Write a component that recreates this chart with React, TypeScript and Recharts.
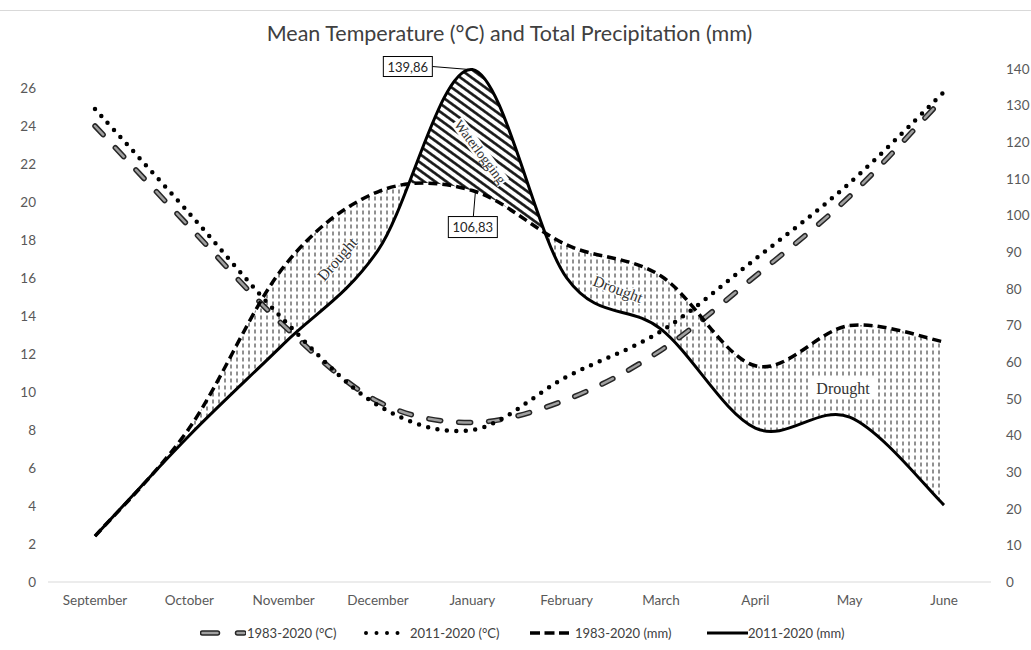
import React from 'react';
import { ComposedChart, Line, Area, XAxis, YAxis, LabelList } from 'recharts';

const months = ['September', 'October', 'November', 'December', 'January', 'February', 'March', 'April', 'May', 'June'];
const temp1983 = [24.0, 18.7, 13.5, 9.5, 8.4, 9.6, 12.2, 16.1, 20.3, 25.5];
const temp2011 = [24.9, 19.4, 13.8, 9.3, 8.0, 10.8, 13.2, 17.0, 21.0, 25.8];
const prec1983 = [12.5, 42, 86, 106.5, 106.83, 92, 83.5, 59, 70, 65.5];
const prec2011 = [12.5, 40, 65, 90.5, 139.86, 83, 69, 42, 45, 21];
const tempTicks = [0, 2, 4, 6, 8, 10, 12, 14, 16, 18, 20, 22, 24, 26];
const precTicks = [0, 10, 20, 30, 40, 50, 60, 70, 80, 90, 100, 110, 120, 130, 140];
const seriesNames = ['1983-2020 (°C)', '2011-2020 (°C)', '1983-2020 (mm)', '2011-2020 (mm)'];
const title = 'Mean Temperature (°C) and Total Precipitation (mm)';

const data = months.map((m, i) => ({
  month: m,
  t1983: temp1983[i],
  t2011: temp2011[i],
  p1983: prec1983[i],
  p2011: prec2011[i],
  gap: [prec1983[i], prec2011[i]],
}));

type Pt = [number, number];

function bezSegs(pts: Pt[]): Pt[][] {
  const segs: Pt[][] = [];
  for (let i = 0; i < pts.length - 1; i++) {
    const p0 = pts[i - 1] || pts[i];
    const p1 = pts[i];
    const p2 = pts[i + 1];
    const p3 = pts[i + 2] || pts[i + 1];
    segs.push([
      p1,
      [p1[0] + (p2[0] - p0[0]) / 6, p1[1] + (p2[1] - p0[1]) / 6],
      [p2[0] - (p3[0] - p1[0]) / 6, p2[1] - (p3[1] - p1[1]) / 6],
      p2,
    ]);
  }
  return segs;
}

function traceCurve(ctx: any, pts: Pt[], move: boolean) {
  if (!pts.length) return;
  if (move) ctx.moveTo(pts[0][0], pts[0][1]);
  else ctx.lineTo(pts[0][0], pts[0][1]);
  bezSegs(pts).forEach((s) => ctx.bezierCurveTo(s[1][0], s[1][1], s[2][0], s[2][1], s[3][0], s[3][1]));
}

function sampleCurve(pts: Pt[], n = 40): Pt[] {
  const out: Pt[] = [];
  if (pts.length === 1) return [pts[0]];
  bezSegs(pts).forEach((s, k) => {
    for (let j = k === 0 ? 0 : 1; j <= n; j++) {
      const t = j / n;
      const u = 1 - t;
      const a = u * u * u, b = 3 * u * u * t, c = 3 * u * t * t, d = t * t * t;
      out.push([
        a * s[0][0] + b * s[1][0] + c * s[2][0] + d * s[3][0],
        a * s[0][1] + b * s[1][1] + c * s[2][1] + d * s[3][1],
      ]);
    }
  });
  return out;
}

// Excel-like smoothing (Catmull-Rom, 1/6 tension); optional lobe mode for the filled gap between two curves
function makeCurve(mode?: 'wet' | 'dry') {
  return (context: any) => {
    let lines: Pt[][] = [];
    let cur: Pt[] = [];
    let inArea = false;
    return {
      areaStart() { inArea = true; lines = []; },
      areaEnd() {
        inArea = false;
        if (lines.length < 2) return;
        const top = lines[0];
        const base = lines[1].slice().reverse();
        if (!mode) {
          traceCurve(context, top, true);
          traceCurve(context, base.slice().reverse(), false);
          context.closePath();
          return;
        }
        const A = sampleCurve(top);
        const B = sampleCurve(base);
        const upper: Pt[] = A.map((a, i) => [a[0], Math.min(a[1], B[i][1])]);
        const lower = mode === 'wet' ? B : A;
        context.moveTo(upper[0][0], upper[0][1]);
        for (let i = 1; i < upper.length; i++) context.lineTo(upper[i][0], upper[i][1]);
        for (let i = lower.length - 1; i >= 0; i--) context.lineTo(lower[i][0], lower[i][1]);
        context.closePath();
      },
      lineStart() { cur = []; },
      lineEnd() {
        if (inArea) lines.push(cur);
        else traceCurve(context, cur, true);
      },
      point(x: number, y: number) { cur.push([+x, +y]); },
    };
  };
}

const smooth = makeCurve();
const wetCurve = makeCurve('wet');
const dryCurve = makeCurve('dry');

const fmt = (v: number) => v.toFixed(2).replace('.', ',');
const labelFont = { fontFamily: 'Lato, "Open Sans", sans-serif', fontSize: 13, fill: '#262626' };

const PeakLabel = (props: any) => {
  const { x, y, value } = props;
  if (value !== Math.max(...prec2011)) return null;
  return (
    <g>
      <line x1={x - 40} y1={y - 3} x2={x - 3} y2={y} stroke="#000" strokeWidth={1} />
      <rect x={x - 89} y={y - 13} width={49} height={20} fill="#fff" stroke="#000" strokeWidth={1} />
      <text x={x - 64.5} y={y - 3} textAnchor="middle" dominantBaseline="central" {...labelFont}>{fmt(value)}</text>
    </g>
  );
};

const JanLabel = (props: any) => {
  const { x, y, value } = props;
  if (value !== prec1983[months.indexOf('January')]) return null;
  return (
    <g>
      <line x1={x + 1} y1={y + 26} x2={x + 3} y2={y + 2} stroke="#000" strokeWidth={1} />
      <rect x={x - 24} y={y + 26} width={49} height={21} fill="#fff" stroke="#000" strokeWidth={1} />
      <text x={x + 0.5} y={y + 36.5} textAnchor="middle" dominantBaseline="central" {...labelFont}>{fmt(value)}</text>
    </g>
  );
};

const tickStyle = { fill: '#595959', fontSize: 13.5, fontFamily: 'Lato, "Open Sans", sans-serif' };

function LegendIcon({ kind }: { kind: number }) {
  if (kind === 0) {
    return (
      <svg width={46} height={10} style={{ display: 'block' }}>
        <line x1={2.5} y1={5} x2={44} y2={5} stroke="#262626" strokeWidth={5.5} strokeDasharray="15 20" strokeLinecap="round" />
        <line x1={2.5} y1={5} x2={44} y2={5} stroke="#a0a0a0" strokeWidth={2.5} strokeDasharray="15 20" strokeLinecap="round" />
      </svg>
    );
  }
  if (kind === 1) {
    return (
      <svg width={45} height={10} style={{ display: 'block' }}>
        <line x1={2} y1={5} x2={44} y2={5} stroke="#000" strokeWidth={4} strokeDasharray="0 10.5" strokeLinecap="round" />
      </svg>
    );
  }
  if (kind === 2) {
    return (
      <svg width={40} height={10} style={{ display: 'block' }}>
        <line x1={0} y1={5} x2={39} y2={5} stroke="#000" strokeWidth={3.5} strokeDasharray="10 4.5" />
      </svg>
    );
  }
  return (
    <svg width={41} height={10} style={{ display: 'block' }}>
      <line x1={0} y1={5} x2={41} y2={5} stroke="#000" strokeWidth={3} />
    </svg>
  );
}

const legendPos = [
  { icon: 200, text: 247 },
  { icon: 364, text: 410 },
  { icon: 530, text: 575 },
  { icon: 707, text: 748 },
];

export default function App() {
  const serif = '"Liberation Serif", "DejaVu Serif", serif';
  return (
    <div style={{ position: 'absolute', left: 0, top: 0, width: 1031, height: 650, background: '#fff', overflow: 'hidden' }}>
      <svg width={0} height={0} style={{ position: 'absolute' }}>
        <defs>
          <pattern id="dryHatch" width={6} height={7} patternUnits="userSpaceOnUse">
            <line x1={3} y1={0.5} x2={3} y2={4.5} stroke="#222" strokeWidth={1} />
          </pattern>
          <pattern id="wetHatch" width={12} height={6.6} patternUnits="userSpaceOnUse" patternTransform="rotate(36)">
            <line x1={0} y1={3.3} x2={12} y2={3.3} stroke="#111" strokeWidth={2.6} />
          </pattern>
        </defs>
      </svg>
      <div style={{ position: 'absolute', left: 0, top: 10, width: 1031, height: 1, background: '#d9d9d9' }} />
      <div style={{ position: 'absolute', left: 0, top: 0 }}>
        <ComposedChart width={1031} height={650} data={data} margin={{ top: 69, right: 0, bottom: 38, left: 8 }}>
          <XAxis
            dataKey="month"
            padding={{ left: 47, right: 47 }}
            axisLine={{ stroke: '#d9d9d9' }}
            tickLine={false}
            tickMargin={7}
            height={30}
            interval={0}
            tick={tickStyle}
          />
          <YAxis
            yAxisId="left"
            domain={[0, 27]}
            ticks={tempTicks}
            axisLine={false}
            tickLine={false}
            width={40}
            tickMargin={6}
            tick={tickStyle}
          />
          <YAxis
            yAxisId="right"
            orientation="right"
            domain={[0, 140]}
            ticks={precTicks}
            axisLine={false}
            tickLine={false}
            width={40}
            tickMargin={9}
            tick={tickStyle}
          />
          <Area yAxisId="right" dataKey="gap" type={dryCurve as any} fill="url(#dryHatch)" stroke="none" fillOpacity={1} dot={false} activeDot={false} isAnimationActive={false} />
          <Area yAxisId="right" dataKey="gap" type={wetCurve as any} fill="url(#wetHatch)" stroke="none" fillOpacity={1} dot={false} activeDot={false} isAnimationActive={false} />
          <Line yAxisId="left" dataKey="t1983" name={seriesNames[0]} type={smooth as any} stroke="#262626" strokeWidth={5.5} strokeDasharray="12 18" strokeLinecap="round" dot={false} activeDot={false} isAnimationActive={false} />
          <Line yAxisId="left" dataKey="t1983" name={seriesNames[0] + ' '} type={smooth as any} stroke="#a0a0a0" strokeWidth={2.5} strokeDasharray="12 18" strokeLinecap="round" dot={false} activeDot={false} isAnimationActive={false} legendType="none" />
          <Line yAxisId="left" dataKey="t2011" name={seriesNames[1]} type={smooth as any} stroke="#000" strokeWidth={4.5} strokeDasharray="0 9.5" strokeLinecap="round" dot={false} activeDot={false} isAnimationActive={false} />
          <Line yAxisId="right" dataKey="p1983" name={seriesNames[2]} type={smooth as any} stroke="#000" strokeWidth={3.5} strokeDasharray="9 5" dot={false} activeDot={false} isAnimationActive={false}>
            <LabelList dataKey="p1983" content={JanLabel} />
          </Line>
          <Line yAxisId="right" dataKey="p2011" name={seriesNames[3]} type={smooth as any} stroke="#000" strokeWidth={3} dot={false} activeDot={false} isAnimationActive={false}>
            <LabelList dataKey="p2011" content={PeakLabel} />
          </Line>
        </ComposedChart>
      </div>
      <svg width={1031} height={650} style={{ position: 'absolute', left: 0, top: 0, pointerEvents: 'none' }}>
        <text x={509.5} y={33} textAnchor="middle" dominantBaseline="central" fontFamily='Lato, "Open Sans", sans-serif' fontSize={21.5} fill="#404040">{title}</text>
        <g fontFamily={serif} fill="#333">
          <g transform="translate(480,152) rotate(53)">
            <rect x={-39} y={-7} width={78} height={14} fill="#fff" />
            <text textAnchor="middle" dominantBaseline="central" fontSize={14}>Waterlogging</text>
          </g>
          <text transform="translate(337,259) rotate(-49)" textAnchor="middle" dominantBaseline="central" fontSize={15.5} stroke="#fff" strokeWidth={2.5} paintOrder="stroke" strokeLinejoin="round">Drought</text>
          <text transform="translate(618,289) rotate(21)" textAnchor="middle" dominantBaseline="central" fontSize={15.5} stroke="#fff" strokeWidth={2.5} paintOrder="stroke" strokeLinejoin="round">Drought</text>
          <rect x={811} y={378} width={64} height={21} fill="#fff" />
          <text x={843} y={388.5} textAnchor="middle" dominantBaseline="central" fontSize={16}>Drought</text>
        </g>
      </svg>
      {seriesNames.map((name, i) => (
        <div key={name} style={{ position: 'absolute', top: 624, left: 0, width: 1031, height: 18 }}>
          <div style={{ position: 'absolute', left: legendPos[i].icon, top: 4 }}>
            <LegendIcon kind={i} />
          </div>
          <div style={{ position: 'absolute', left: legendPos[i].text, top: 0, fontFamily: 'Lato, "Open Sans", sans-serif', fontSize: 13, color: '#404040', lineHeight: '18px', whiteSpace: 'nowrap' }}>
            {name}
          </div>
        </div>
      ))}
    </div>
  );
}
